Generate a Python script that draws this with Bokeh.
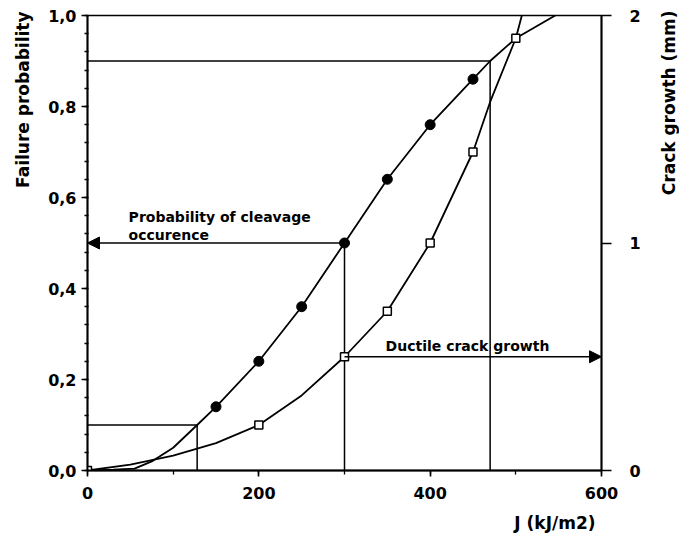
import math
from bokeh.plotting import figure
from bokeh.models import (LinearAxis, Range1d, SingleIntervalTicker, FixedTicker,
                          CustomJSTickFormatter, Arrow, NormalHead, Label, Title)
from bokeh.embed import file_html
from bokeh.resources import INLINE

# ---- data ----
J_prob = [150, 200, 250, 300, 350, 400, 450]
P_fail = [0.14, 0.24, 0.36, 0.50, 0.64, 0.76, 0.86]

J_crack = [0, 200, 300, 350, 400, 450, 500]
crack_mm = [0.0, 0.2, 0.5, 0.7, 1.0, 1.4, 1.9]

fit_prob_J = [0, 30, 55, 75, 100, 128, 150, 200, 250, 300, 350, 400, 450, 470, 500, 546]
fit_prob_P = [0.0, 0.002, 0.004, 0.02, 0.05, 0.10, 0.14, 0.24, 0.36, 0.50, 0.64, 0.76, 0.86, 0.90, 0.95, 1.0]

fit_crack_J = [0, 50, 100, 150, 200, 250, 300, 350, 400, 450, 470, 500, 507]
fit_crack_mm = [0.0, 0.026, 0.065, 0.12, 0.2, 0.33, 0.5, 0.7, 1.0, 1.4, 1.62, 1.9, 2.0]

guide_J = [128, 300, 470]
guide_P = [0.1, 0.5, 0.9]
ductile_J = [300, 600]
ductile_mm = 0.5

x_title = "J (kJ/m2)"
y_title = "Failure probability"
y2_title = "Crack growth (mm)"

FONT = "DejaVu Sans"

p = figure(width=679, height=541, x_range=Range1d(0, 600), y_range=Range1d(0, 1),
           output_backend="svg", toolbar_location=None,
           min_border_left=87, min_border_right=78, min_border_top=15, min_border_bottom=70)
p.extra_y_ranges = {"crack": Range1d(0, 2)}
p.grid.visible = False
p.background_fill_color = "white"
p.border_fill_color = "white"
p.outline_line_color = "black"
p.outline_line_width = 1.6
p.outline_line_alpha = 1.0

# bottom axis
xa = p.xaxis[0]
xa.ticker = SingleIntervalTicker(interval=200, num_minor_ticks=2)
xa.major_label_standoff = 10

# left axis
ya = p.yaxis[0]
ya.ticker = SingleIntervalTicker(interval=0.2, num_minor_ticks=5)
ya.formatter = CustomJSTickFormatter(code="return tick.toFixed(1).replace('.', ',');")
ya.major_label_standoff = 5

# right axis
ra = LinearAxis(y_range_name="crack", ticker=FixedTicker(ticks=[0, 1, 2], minor_ticks=[]))
p.add_layout(ra, "right")
ra.major_tick_out = 10
ra.major_tick_in = 0
ra.major_label_standoff = 18

for ax in (xa, ya, ra):
    ax.axis_line_color = "black"
    ax.axis_line_width = 1.8
    ax.major_tick_line_color = "black"
    ax.major_tick_line_width = 1.6
    ax.minor_tick_line_color = "black"
    ax.minor_tick_line_width = 1.3
    ax.major_label_text_font = FONT
    ax.major_label_text_font_style = "bold"
    ax.major_label_text_font_size = "16px"
    ax.major_label_text_color = "black"

xa.major_tick_out = 6
xa.major_tick_in = 0
xa.minor_tick_out = 4
xa.minor_tick_in = 0
ya.major_tick_out = 6
ya.major_tick_in = 0
ya.minor_tick_out = 3
ya.minor_tick_in = 1

# axis titles
title_kw = dict(text_font=FONT, text_font_style="bold", text_font_size="17px", text_color="black")
p.add_layout(Title(text=x_title, align="right", vertical_align="bottom", offset=6,
                   standoff=18, **title_kw), "below")
p.add_layout(Title(text=y_title, align="right", vertical_align="middle", offset=-4,
                   standoff=23, **title_kw), "left")
p.add_layout(Label(x=679, y=1.011, text=y2_title, angle=math.pi / 2, text_align="right",
                   text_baseline="middle", **title_kw), "right")

# guide lines
p.segment(x0=[0, 0], y0=[guide_P[0], guide_P[2]], x1=[guide_J[0], guide_J[2]],
          y1=[guide_P[0], guide_P[2]], line_color="black", line_width=1.5)
p.segment(x0=guide_J, y0=[0, 0, 0], x1=guide_J, y1=guide_P, line_color="black", line_width=1.5)

# arrows
p.add_layout(Arrow(end=NormalHead(size=12, fill_color="black", line_color="black", line_width=1),
                   x_start=guide_J[1], y_start=guide_P[1], x_end=0, y_end=guide_P[1],
                   line_color="black", line_width=1.5))
p.add_layout(Arrow(end=NormalHead(size=12, fill_color="black", line_color="black", line_width=1),
                   x_start=ductile_J[0], y_start=ductile_mm, x_end=ductile_J[1], y_end=ductile_mm,
                   y_range_name="crack", line_color="black", line_width=1.5))

# fitted curves
p.line(fit_prob_J, fit_prob_P, line_color="black", line_width=1.8)
p.line(fit_crack_J, fit_crack_mm, y_range_name="crack", line_color="black", line_width=1.8)

# data points
p.scatter(J_prob, P_fail, marker="circle", size=10, fill_color="black", line_color="black")
p.scatter(J_crack, crack_mm, y_range_name="crack", marker="square", size=8,
          fill_color="white", line_color="black", line_width=1.5)

# annotations
for txt, x, y in [("Probability of cleavage", 48, 0.557), ("occurence", 48, 0.517),
                  ("Ductile crack growth", 348, 0.273)]:
    p.add_layout(Label(x=x, y=y, text=txt, text_font=FONT, text_font_style="bold",
                       text_font_size="14px", text_color="black", text_baseline="alphabetic"))

open("out.html", "w").write(file_html(p, INLINE))
